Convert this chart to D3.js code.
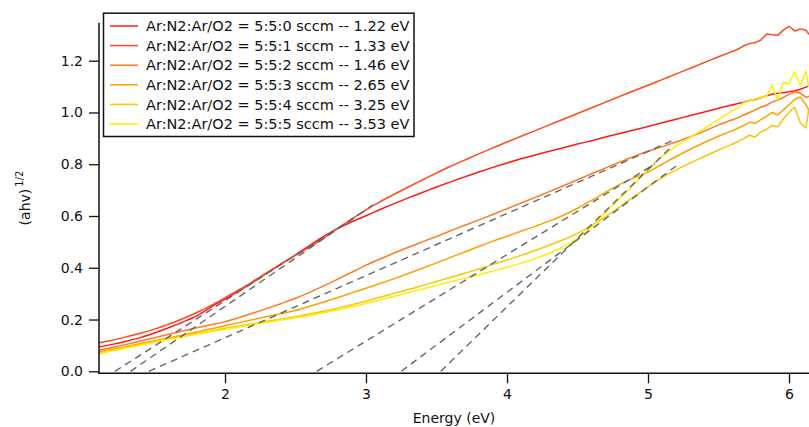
<!DOCTYPE html>
<html>
<head>
<meta charset="utf-8">
<script src="https://cdn.jsdelivr.net/npm/d3@7/dist/d3.min.js"></script>
<style>
  body { margin: 0; background: #fff; }
  text { font-family: "DejaVu Sans", Verdana, sans-serif; fill: #111; }
</style>
</head>
<body>
<svg id="chart" width="809" height="427"></svg>
<script>
// Photon energy grid (eV)
const energy = [1.11,
  1.2,1.3,1.4,1.5,1.6,1.7,1.8,1.9,2.0,2.1,2.2,2.3,2.4,2.5,2.6,2.7,2.8,2.9,3.0,
  3.1,3.2,3.3,3.4,3.5,3.6,3.7,3.8,3.9,4.0,4.1,4.2,4.3,4.4,4.5,4.6,4.7,4.8,4.9,5.0,
  5.1,5.2,5.3,5.4,5.5,5.6,
  5.64,5.68,5.72,5.76,5.80,5.84,5.88,5.92,5.96,6.00,6.04,6.08,6.12,
  6.14];

// (ahv)^1/2 for each Ar:N2:Ar/O2 flow ratio
const flow550 = [0.095,
  0.104,0.116,0.130,0.148,0.168,0.190,0.214,0.248,0.279,0.311,0.345,0.380,0.415,0.450,0.486,0.521,0.552,0.578,0.601,
  0.625,0.648,0.670,0.691,0.712,0.732,0.751,0.770,0.788,0.805,0.821,0.836,0.850,0.864,0.878,0.891,0.905,0.919,0.932,0.946,
  0.960,0.974,0.988,1.002,1.016,1.030,
  1.035,1.040,1.046,1.050,1.057,1.064,1.070,1.074,1.076,1.080,1.084,1.090,1.098,
  1.102];
const flow551 = [0.110,
  0.120,0.133,0.147,0.163,0.182,0.203,0.227,0.254,0.284,0.315,0.348,0.382,0.416,0.448,0.480,0.515,0.552,0.589,0.624,
  0.655,0.684,0.712,0.739,0.766,0.792,0.816,0.840,0.863,0.886,0.908,0.930,0.952,0.974,0.996,1.018,1.040,1.062,1.084,1.105,
  1.127,1.149,1.171,1.193,1.215,1.236,
  1.245,1.258,1.266,1.270,1.279,1.303,1.300,1.298,1.318,1.333,1.315,1.323,1.318,
  1.303];
const flow552 = [0.082,
  0.092,0.104,0.117,0.130,0.143,0.156,0.168,0.180,0.192,0.208,0.225,0.243,0.262,0.282,0.305,0.330,0.356,0.383,0.410,
  0.434,0.457,0.479,0.500,0.521,0.543,0.564,0.585,0.606,0.628,0.650,0.672,0.694,0.717,0.740,0.763,0.786,0.808,0.830,0.850,
  0.868,0.886,0.906,0.928,0.952,0.972,
  0.980,0.990,1.000,1.010,1.020,1.028,1.040,1.048,1.058,1.070,1.080,1.075,1.058,
  1.062];
const flow553 = [0.076,
  0.085,0.096,0.107,0.118,0.129,0.140,0.152,0.164,0.176,0.188,0.200,0.212,0.223,0.235,0.251,0.268,0.285,0.303,0.321,
  0.339,0.358,0.378,0.398,0.419,0.440,0.461,0.482,0.503,0.522,0.541,0.560,0.580,0.603,0.630,0.660,0.692,0.722,0.747,0.770,
  0.800,0.830,0.858,0.884,0.908,0.930,
  0.940,0.950,0.962,0.958,0.972,0.985,1.000,0.990,1.010,1.030,1.050,1.060,1.030,
  1.010];
const flow554 = [0.072,
  0.082,0.093,0.104,0.115,0.126,0.136,0.146,0.156,0.166,0.175,0.184,0.193,0.202,0.211,0.221,0.232,0.244,0.257,0.271,
  0.286,0.301,0.316,0.331,0.347,0.363,0.379,0.395,0.413,0.430,0.448,0.467,0.487,0.508,0.533,0.563,0.598,0.635,0.675,0.713,
  0.748,0.778,0.805,0.830,0.855,0.878,
  0.888,0.900,0.912,0.905,0.925,0.935,0.950,0.945,0.975,1.000,1.020,0.960,0.940,
  1.010];
const flow555 = [0.068,
  0.079,0.090,0.101,0.112,0.123,0.133,0.143,0.153,0.162,0.171,0.180,0.189,0.198,0.207,0.216,0.226,0.237,0.249,0.262,
  0.276,0.290,0.304,0.318,0.332,0.346,0.359,0.373,0.387,0.402,0.418,0.436,0.456,0.482,0.515,0.558,0.616,0.668,0.722,0.780,
  0.830,0.870,0.905,0.938,0.972,1.008,
  1.018,1.038,1.045,1.052,1.058,1.062,1.105,1.050,1.118,1.110,1.157,1.105,1.160,
  1.100];

const seriesLabels = [
  "Ar:N2:Ar/O2 = 5:5:0 sccm -- 1.22 eV",
  "Ar:N2:Ar/O2 = 5:5:1 sccm -- 1.33 eV",
  "Ar:N2:Ar/O2 = 5:5:2 sccm -- 1.46 eV",
  "Ar:N2:Ar/O2 = 5:5:3 sccm -- 2.65 eV",
  "Ar:N2:Ar/O2 = 5:5:4 sccm -- 3.25 eV",
  "Ar:N2:Ar/O2 = 5:5:5 sccm -- 3.53 eV"
];
const seriesColors = ["#ff1a1a", "#ff4a1f", "#ff7a22", "#ffa000", "#ffc400", "#ffee00"];

// Linear Tauc fits: x-intercept (band gap), slope, and last energy drawn
const bandGaps = [1.22, 1.33, 1.46, 2.65, 3.25, 3.53];
const fitSlopes = [0.350, 0.374, 0.240, 0.334, 0.407, 0.530];
const fitEnds = [2.95, 3.05, 5.20, 5.05, 5.20, 5.15];

const xTicks = [2, 3, 4, 5, 6];
const yTicks = [0, 0.2, 0.4, 0.6, 0.8, 1.0, 1.2];

const seriesValues = [flow550, flow551, flow552, flow553, flow554, flow555];

const svg = d3.select("#chart");
const plotLeft = 99, plotRight = 809, plotTop = 22.7, plotBottom = 373.3;

const x = d3.scaleLinear().domain([2, 6]).range([225, 789]);
const y = d3.scaleLinear().domain([0, 1.2]).range([371.3, 60.7]);

svg.append("defs").append("clipPath").attr("id", "plot-clip")
  .append("rect").attr("x", plotLeft).attr("y", 0)
  .attr("width", plotRight - plotLeft).attr("height", plotBottom);

const plot = svg.append("g").attr("clip-path", "url(#plot-clip)");

// Smooth part of each spectrum uses a monotone curve; the noisy high-energy
// tail is drawn point to point.
const smoothLine = d3.line().x(d => x(d[0])).y(d => y(d[1])).curve(d3.curveMonotoneX);
const rawLine = d3.line().x(d => x(d[0])).y(d => y(d[1]));
const splitEnergy = 5.6;

seriesValues.forEach((vals, i) => {
  const pts = energy.map((e, k) => [e, vals[k]]);
  const head = pts.filter(p => p[0] <= splitEnergy);
  const tail = pts.filter(p => p[0] >= splitEnergy);
  [[head, smoothLine], [tail, rawLine]].forEach(([seg, gen]) => {
    plot.append("path")
      .datum(seg)
      .attr("d", gen)
      .attr("fill", "none")
      .attr("stroke", seriesColors[i])
      .attr("stroke-width", 1.5)
      .attr("stroke-linejoin", "round")
      .attr("stroke-linecap", "round");
  });
});

// Band-gap extrapolation lines
bandGaps.forEach((g, i) => {
  const e = fitEnds[i];
  plot.append("line")
    .attr("x1", x(g)).attr("y1", y(0))
    .attr("x2", x(e)).attr("y2", y(fitSlopes[i] * (e - g)))
    .attr("stroke", "#666")
    .attr("stroke-width", 1.4)
    .attr("stroke-dasharray", "7,5");
});

// Axes
const yAxis = d3.axisLeft(y).tickValues(yTicks).tickFormat(d3.format(".1f"))
  .tickSize(10).tickSizeOuter(0).tickPadding(6);
const gy = svg.append("g").attr("transform", `translate(${plotLeft},0)`).call(yAxis);
gy.select(".domain").remove();
gy.selectAll(".tick line").attr("stroke", "#111").attr("stroke-width", 1.3);
gy.selectAll(".tick text").style("font-size", "14px").attr("fill", "#111");

const xAxis = d3.axisBottom(x).tickValues(xTicks).tickFormat(d3.format("d"))
  .tickSize(10).tickSizeOuter(0).tickPadding(6);
const gx = svg.append("g").attr("transform", `translate(0,${plotBottom})`).call(xAxis);
gx.select(".domain").remove();
gx.selectAll(".tick line").attr("stroke", "#111").attr("stroke-width", 1.3);
gx.selectAll(".tick text").style("font-size", "14px").attr("fill", "#111");

svg.append("line").attr("x1", plotLeft).attr("x2", plotLeft)
  .attr("y1", plotTop).attr("y2", plotBottom + 0.7)
  .attr("stroke", "#111").attr("stroke-width", 1.5);
svg.append("line").attr("x1", plotLeft - 0.7).attr("x2", plotRight)
  .attr("y1", plotBottom).attr("y2", plotBottom)
  .attr("stroke", "#111").attr("stroke-width", 1.5);

// Axis titles
svg.append("text")
  .attr("x", (plotLeft + plotRight) / 2).attr("y", 423)
  .attr("text-anchor", "middle")
  .style("font-size", "14px")
  .text("Energy (eV)");

const yTitle = svg.append("text")
  .attr("transform", `translate(30,${(plotTop + plotBottom) / 2}) rotate(-90)`)
  .attr("text-anchor", "middle")
  .style("font-size", "14px");
yTitle.append("tspan").text("(ahv)");
yTitle.append("tspan").attr("dy", -7).attr("dx", 2).style("font-size", "10px").text("1/2");

// Legend
const legend = svg.append("g");
legend.append("rect")
  .attr("x", 103.5).attr("y", 13.2).attr("width", 310.5).attr("height", 123.3)
  .attr("fill", "#fff").attr("stroke", "#111").attr("stroke-width", 1.5);
seriesLabels.forEach((lab, i) => {
  const cy = 26 + i * 19.6;
  legend.append("line")
    .attr("x1", 110).attr("x2", 138).attr("y1", cy).attr("y2", cy)
    .attr("stroke", seriesColors[i]).attr("stroke-width", 1.5);
  legend.append("text")
    .attr("x", 146).attr("y", cy).attr("dy", "0.36em")
    .style("font-size", "14.5px")
    .text(lab);
});
</script>
</body>
</html>
